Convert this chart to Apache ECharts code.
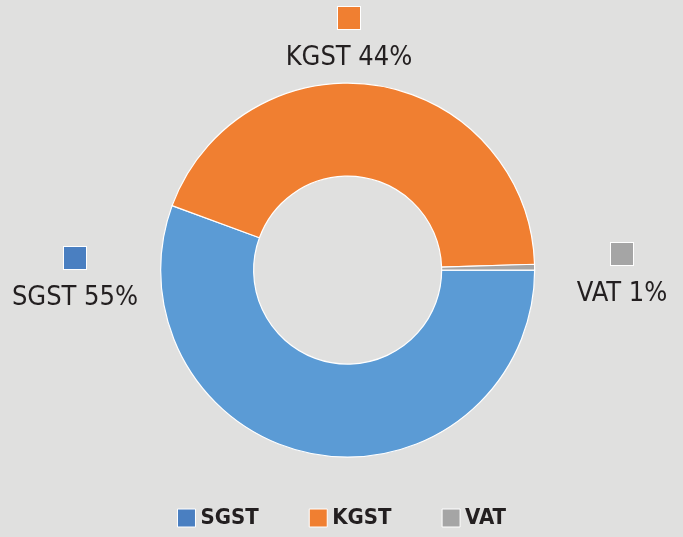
<!DOCTYPE html>
<html>
<head>
<meta charset="utf-8">
<script src="https://cdn.jsdelivr.net/npm/echarts@6/dist/echarts.min.js"></script>
<style>
  html, body { margin: 0; padding: 0; background: #e0e0df; }
  #chart { width: 683px; height: 537px; }
</style>
</head>
<body>
<div id="chart"></div>
<script>
var categories = ['SGST', 'KGST', 'VAT']
// slice sizes as measured from the ring, label text as printed
var shares = [55.6, 43.9, 0.5]
var pctLabels = ['55%', '44%', '1%']
var sliceColors = ['#5b9bd5', '#f07f31', '#a5a5a5']
var keyColors = ['#4a7fc1', '#f07f31', '#a5a5a5']

// where each data label block sits (center x, top y)
var labelPos = [[75, 247], [349, 7], [622, 243]]

var font = '"DejaVu Sans Condensed", "Liberation Sans Narrow", sans-serif'

var myChart = echarts.init(document.getElementById('chart'))

var pieData = categories.map(function (name, i) {
  return {
    name: name,
    value: shares[i],
    itemStyle: { color: sliceColors[i] },
    label: {
      rich: {
        sq: {
          width: 22,
          height: 22,
          backgroundColor: keyColors[i],
          borderColor: '#ffffff',
          borderWidth: 1
        },
        t: {
          fontFamily: font,
          fontSize: 27,
          lineHeight: 58,
          color: '#231f20'
        }
      }
    }
  }
})

myChart.setOption({
  backgroundColor: '#e0e0df',
  animation: false,
  legend: {
    bottom: 3,
    left: 'center',
    itemWidth: 18,
    itemHeight: 18,
    itemGap: 50,
    icon: 'rect',
    textStyle: {
      fontFamily: font,
      fontSize: 22,
      fontWeight: 'bold',
      color: '#231f20'
    },
    data: categories.map(function (name, i) {
      return {
        name: name,
        itemStyle: { color: keyColors[i], borderColor: '#ffffff', borderWidth: 1 }
      }
    })
  },
  series: [
    {
      type: 'pie',
      center: ['50.9%', '50.3%'],
      radius: [94, 187],
      startAngle: 0,
      clockwise: true,
      avoidLabelOverlap: false,
      itemStyle: {
        borderColor: '#ffffff',
        borderWidth: 1.2
      },
      label: {
        show: true,
        position: 'outside',
        align: 'center',
        formatter: function (p) {
          return '{sq|}\n{t|' + p.name + ' ' + pctLabels[p.dataIndex] + '}'
        }
      },
      labelLine: { show: false },
      labelLayout: function (params) {
        var pos = labelPos[params.dataIndex]
        return {
          x: pos[0],
          y: pos[1],
          align: 'center',
          verticalAlign: 'top'
        }
      },
      emphasis: { disabled: true },
      data: pieData
    }
  ]
})
</script>
</body>
</html>
